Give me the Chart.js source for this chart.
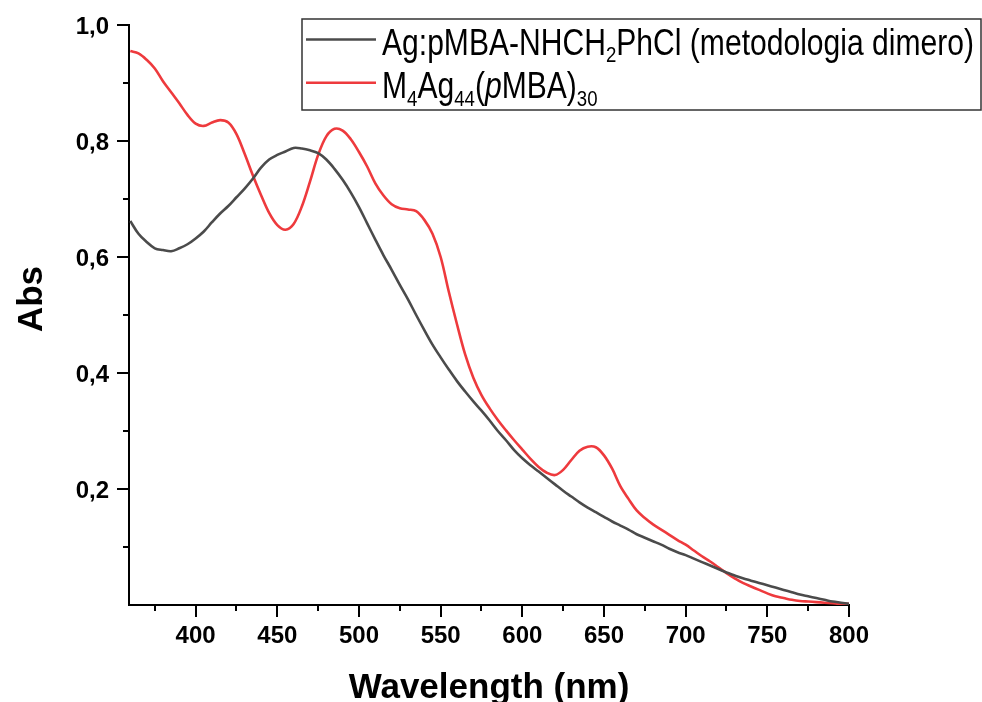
<!DOCTYPE html>
<html>
<head>
<meta charset="utf-8">
<script src="https://cdn.jsdelivr.net/npm/chart.js@4.4.1/dist/chart.umd.min.js"></script>
<style>
  html, body { margin: 0; padding: 0; background: #fff; }
  #wrap { width: 982px; height: 702px; }
</style>
</head>
<body>
<div id="wrap"><canvas id="chart" width="982" height="702"></canvas></div>
<script>
// ------------------------------------------------------------
//  Data (absorbance vs nm)
// ------------------------------------------------------------
var WAVELENGTH = [
  360, 365, 370, 375, 380, 385, 390, 395, 400, 405,
  410, 415, 420, 425, 430, 435, 440, 445, 450, 455,
  460, 465, 470, 475, 480, 485, 490, 495, 500, 505,
  510, 515, 520, 525, 530, 535, 540, 545, 550, 555,
  560, 565, 570, 575, 580, 585, 590, 595, 600, 605,
  610, 615, 620, 625, 630, 635, 640, 645, 650, 655,
  660, 665, 670, 675, 680, 685, 690, 695, 700, 705,
  710, 715, 720, 725, 730, 735, 740, 745, 750, 755,
  760, 765, 770, 775, 780, 785, 790, 795, 800
];

// Ag:pMBA-NHCH2PhCl (metodologia dimero)
var ABS_DIMERO = [
  0.662, 0.640, 0.626, 0.615, 0.612, 0.610, 0.615, 0.622, 0.632, 0.644,
  0.660, 0.675, 0.688, 0.703, 0.718, 0.735, 0.754, 0.768, 0.776, 0.782,
  0.788, 0.787, 0.784, 0.779, 0.768, 0.752, 0.733, 0.711, 0.686, 0.658,
  0.630, 0.603, 0.578, 0.552, 0.527, 0.500, 0.474, 0.449, 0.427, 0.406,
  0.386, 0.368, 0.351, 0.335, 0.318, 0.300, 0.284, 0.267, 0.253, 0.241,
  0.230, 0.219, 0.208, 0.197, 0.187, 0.177, 0.168, 0.160, 0.152, 0.144,
  0.137, 0.130, 0.122, 0.116, 0.110, 0.104, 0.097, 0.091, 0.086, 0.080,
  0.074, 0.068, 0.062, 0.056, 0.051, 0.046, 0.042, 0.038, 0.034, 0.030,
  0.026, 0.022, 0.018, 0.015, 0.012, 0.009, 0.006, 0.004, 0.002
];

// M4Ag44(pMBA)30
var ABS_M4AG44 = [
  0.955, 0.951, 0.940, 0.925, 0.903, 0.884, 0.865, 0.845, 0.830, 0.826,
  0.832, 0.836, 0.832, 0.812, 0.778, 0.741, 0.707, 0.676, 0.655, 0.647,
  0.657, 0.687, 0.730, 0.776, 0.808, 0.821, 0.818, 0.803, 0.781, 0.756,
  0.727, 0.706, 0.691, 0.684, 0.682, 0.679, 0.664, 0.640, 0.600, 0.540,
  0.484, 0.432, 0.392, 0.362, 0.339, 0.319, 0.301, 0.284, 0.268, 0.252,
  0.238, 0.228, 0.224, 0.233, 0.250, 0.266, 0.273, 0.272, 0.258, 0.235,
  0.205, 0.183, 0.163, 0.150, 0.139, 0.130, 0.121, 0.112, 0.104, 0.094,
  0.084, 0.075, 0.065, 0.055, 0.046, 0.038, 0.032, 0.026, 0.020, 0.015,
  0.012, 0.009, 0.007, 0.006, 0.005, 0.004, 0.003, 0.002, 0.002
];

var X_MAJOR = [400, 450, 500, 550, 600, 650, 700, 750, 800];
var X_MINOR = [375, 425, 475, 525, 575, 625, 675, 725, 775];
var Y_MAJOR = [0.2, 0.4, 0.6, 0.8, 1.0];
var Y_MINOR = [0.1, 0.3, 0.5, 0.7, 0.9];

var COLOR_GREY = '#4b4b4b';
var COLOR_RED  = '#ee3a3d';
var FONT = '"Liberation Sans", Arial, sans-serif';

function points(ys) {
  return WAVELENGTH.map(function (x, i) { return { x: x, y: ys[i] }; });
}

// ------------------------------------------------------------
//  Rich text (subscripts / italics) for the legend
// ------------------------------------------------------------
function richWidth(ctx, parts, size) {
  var w = 0;
  parts.forEach(function (p) {
    var fs = p.sub ? size * 0.62 : size;
    ctx.font = (p.it ? 'italic ' : '') + fs + 'px ' + FONT;
    w += ctx.measureText(p.t).width;
  });
  return w;
}

function drawRich(ctx, x, y, parts, size, sx) {
  ctx.save();
  ctx.translate(x, y);
  ctx.scale(sx, 1);
  ctx.fillStyle = '#000';
  ctx.textBaseline = 'alphabetic';
  ctx.textAlign = 'left';
  var cx = 0;
  parts.forEach(function (p) {
    var fs = p.sub ? size * 0.62 : size;
    ctx.font = (p.it ? 'italic ' : '') + fs + 'px ' + FONT;
    ctx.fillText(p.t, cx, p.sub ? size * 0.2 : 0);
    cx += ctx.measureText(p.t).width;
  });
  ctx.restore();
}

var LEGEND_ROWS = [
  { color: COLOR_GREY, parts: [
    { t: 'Ag:pMBA-NHCH' }, { t: '2', sub: true }, { t: 'PhCl (metodologia dimero)' }
  ] },
  { color: COLOR_RED, parts: [
    { t: 'M' }, { t: '4', sub: true }, { t: 'Ag' }, { t: '44', sub: true },
    { t: '(' }, { t: 'p', it: true }, { t: 'MBA)' }, { t: '30', sub: true }
  ] }
];

// ------------------------------------------------------------
//  Origin-style axes: ticks, labels, titles, legend
// ------------------------------------------------------------
var originDecor = {
  id: 'originDecor',
  afterDraw: function (chart) {
    var ctx = chart.ctx;
    var xs = chart.scales.x, ys = chart.scales.y;
    var area = chart.chartArea;

    ctx.save();
    ctx.strokeStyle = '#000';
    ctx.lineWidth = 2;

    // x ticks
    X_MAJOR.concat(X_MINOR).forEach(function (v) {
      var px = Math.round(xs.getPixelForValue(v));
      var len = X_MAJOR.indexOf(v) >= 0 ? 12 : 6;
      ctx.beginPath();
      ctx.moveTo(px, area.bottom);
      ctx.lineTo(px, area.bottom + len);
      ctx.stroke();
    });
    // y ticks
    Y_MAJOR.concat(Y_MINOR).forEach(function (v) {
      var py = Math.round(ys.getPixelForValue(v));
      var len = Y_MAJOR.indexOf(v) >= 0 ? 12 : 6;
      ctx.beginPath();
      ctx.moveTo(area.left, py);
      ctx.lineTo(area.left - len, py);
      ctx.stroke();
    });

    // tick labels
    ctx.fillStyle = '#000';
    ctx.font = 'bold 24px ' + FONT;
    ctx.textAlign = 'center';
    ctx.textBaseline = 'alphabetic';
    X_MAJOR.forEach(function (v) {
      ctx.fillText(String(v), xs.getPixelForValue(v), area.bottom + 38);
    });
    ctx.textAlign = 'right';
    Y_MAJOR.forEach(function (v) {
      ctx.fillText(v.toFixed(1).replace('.', ','), area.left - 20, ys.getPixelForValue(v) + 8.5);
    });

    // axis titles
    ctx.font = 'bold 35px ' + FONT;
    ctx.textAlign = 'center';
    ctx.fillText('Wavelength (nm)', (area.left + area.right) / 2, 698);
    ctx.save();
    ctx.translate(42, 299);
    ctx.rotate(-Math.PI / 2);
    ctx.fillText('Abs', 0, 0);
    ctx.restore();

    // legend box
    var bx = 302, by = 19, bw = 679, bh = 91;
    ctx.fillStyle = '#fff';
    ctx.fillRect(bx, by, bw, bh);
    ctx.strokeStyle = '#333';
    ctx.lineWidth = 1.5;
    ctx.strokeRect(bx, by, bw, bh);

    var size = 36;
    var sx = 592 / richWidth(ctx, LEGEND_ROWS[0].parts, size);
    LEGEND_ROWS.forEach(function (row, i) {
      var ly = 39.5 + i * 43.3;
      ctx.strokeStyle = row.color;
      ctx.lineWidth = 2.6;
      ctx.beginPath();
      ctx.moveTo(306, ly);
      ctx.lineTo(376, ly);
      ctx.stroke();
      drawRich(ctx, 382, ly + 15.5, row.parts, size, sx);
    });
    ctx.restore();
  }
};

// ------------------------------------------------------------
//  Chart
// ------------------------------------------------------------
var axisBase = {
  type: 'linear',
  grid: { display: false, drawTicks: false },
  ticks: { display: false },
  border: { display: true, color: '#000', width: 2 }
};

new Chart(document.getElementById('chart'), {
  type: 'line',
  data: {
    datasets: [
      {
        label: 'Ag:pMBA-NHCH2PhCl (metodologia dimero)',
        data: points(ABS_DIMERO),
        borderColor: COLOR_GREY,
        borderWidth: 2.6,
        pointRadius: 0,
        tension: 0.35,
        fill: false
      },
      {
        label: 'M4Ag44(pMBA)30',
        data: points(ABS_M4AG44),
        borderColor: COLOR_RED,
        borderWidth: 2.6,
        pointRadius: 0,
        tension: 0.35,
        fill: false
      }
    ]
  },
  options: {
    responsive: false,
    devicePixelRatio: 1,
    animation: false,
    layout: { padding: { left: 0, right: 133, top: 25, bottom: 0 } },
    plugins: { legend: { display: false }, tooltip: { enabled: false } },
    scales: {
      x: Object.assign({}, axisBase, {
        min: 359.2, max: 800,
        afterFit: function (s) { s.height = 97; }
      }),
      y: Object.assign({}, axisBase, {
        min: 0, max: 1.0,
        afterFit: function (s) { s.width = 129; }
      })
    }
  },
  plugins: [originDecor]
});
</script>
</body>
</html>
